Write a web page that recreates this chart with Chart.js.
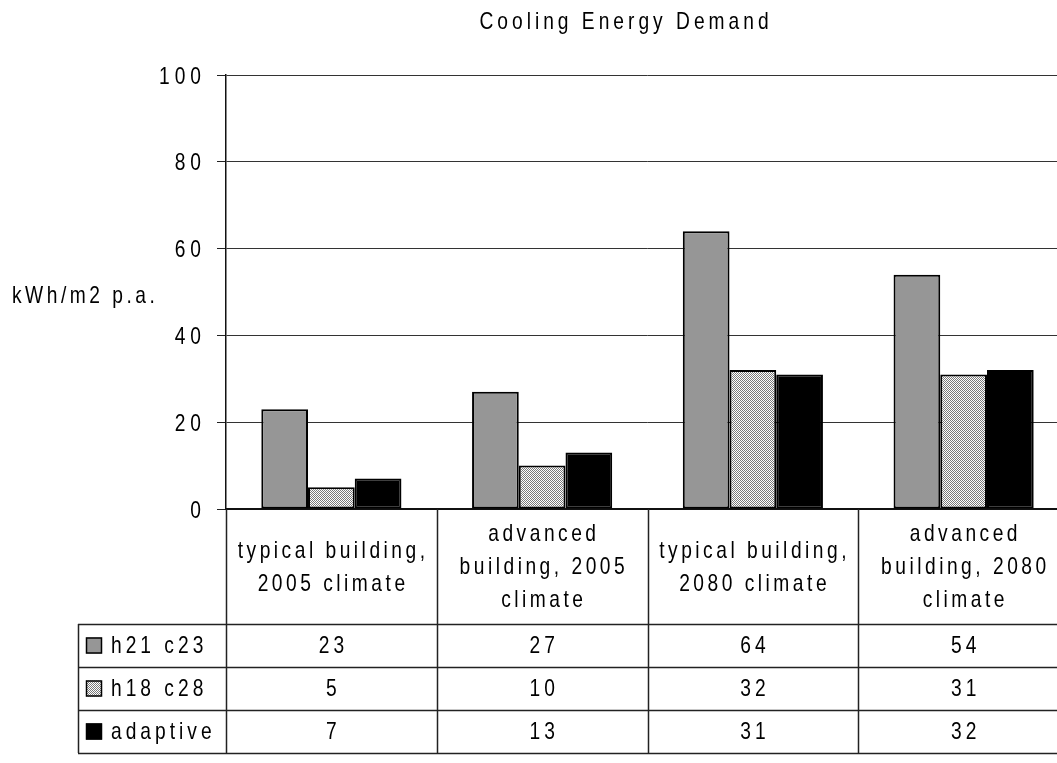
<!DOCTYPE html>
<html>
<head>
<meta charset="utf-8">
<title>Cooling Energy Demand</title>
<script src="https://cdn.jsdelivr.net/npm/chart.js@4.4.0/dist/chart.umd.min.js"></script>
<style>
    html, body { margin: 0; padding: 0; background: #fff; overflow: hidden; }
    #wrap { position: relative; width: 1072px; height: 763px; }
</style>
</head>
<body>
<div id="wrap"><canvas id="cooling-chart"></canvas></div>
<script>
const categories = [
    ['typical building,', '2005 climate'],
    ['advanced', 'building, 2005', 'climate'],
    ['typical building,', '2080 climate'],
    ['advanced', 'building, 2080', 'climate'],
];
const seriesNames = ['h21 c23', 'h18 c28', 'adaptive'];
const h21c23   = [23, 27, 64, 54];
const h18c28   = [5, 10, 32, 31];
const adaptive = [7, 13, 31, 32];
const yTicks   = [0, 20, 40, 60, 80, 100];

const FONT = "'Liberation Sans', Arial, sans-serif";
const SX = 0.8;          // horizontal squeeze for the narrow lettering
const LABEL_ROW = 115;
const DATA_ROW = 43;
const TABLE_LEFT = 78;

// fine checkered fill for the middle series
function dotPattern() {
    const c = document.createElement('canvas');
    c.width = 2; c.height = 2;
    const g = c.getContext('2d');
    g.fillStyle = '#fff';
    g.fillRect(0, 0, 2, 2);
    g.fillStyle = '#7a7a7a';
    g.fillRect(0, 0, 1, 1);
    g.fillRect(1, 1, 1, 1);
    return g.createPattern(c, 'repeat');
}

const fills = ['#969696', dotPattern(), '#000000'];
const values = [h21c23, h18c28, adaptive];

// squeezed, letter-spaced text
function txt(ctx, s, x, y, align, size, spacing) {
    ctx.save();
    ctx.translate(x, y);
    ctx.scale(SX, 1);
    ctx.font = `${size}px ${FONT}`;
    ctx.letterSpacing = (spacing / SX) + 'px';
    ctx.textAlign = align;
    ctx.textBaseline = 'middle';
    let off = 0;
    if (align === 'center') off = spacing / SX / 2;
    if (align === 'right') off = spacing / SX;
    ctx.fillStyle = '#000';
    ctx.fillText(s, off, 0);
    ctx.restore();
}

const tablePlugin = {
    id: 'dataTable',
    afterDraw(chart) {
        const { ctx, chartArea: area, scales: { x, y } } = chart;
        const colW = (area.right - area.left) / categories.length;
        const tableTop = area.bottom + LABEL_ROW;
        const tableBottom = tableTop + DATA_ROW * seriesNames.length;

        txt(ctx, 'Cooling Energy Demand', 624, 22, 'center', 24, 4);
        txt(ctx, 'kWh/m2 p.a.', 12, 296, 'left', 24, 3.5);

        yTicks.forEach(v => txt(ctx, String(v), 201, y.getPixelForValue(v) + 2, 'right', 24, 5));

        ctx.save();
        // grid lines of the table
        ctx.strokeStyle = '#222';
        ctx.lineWidth = 1.5;
        ctx.beginPath();
        for (let i = 0; i <= categories.length; i++) {
            const px = Math.round(area.left + i * colW) + 0.5;
            ctx.moveTo(px, area.bottom);
            ctx.lineTo(px, tableBottom);
        }
        for (let r = 0; r <= seriesNames.length; r++) {
            const py = Math.round(tableTop + r * DATA_ROW) + 0.5;
            ctx.moveTo(TABLE_LEFT, py);
            ctx.lineTo(area.right, py);
        }
        ctx.moveTo(TABLE_LEFT + 0.5, tableTop);
        ctx.lineTo(TABLE_LEFT + 0.5, tableBottom);
        ctx.stroke();

        // legend keys
        seriesNames.forEach((name, r) => {
            const cy = tableTop + r * DATA_ROW + DATA_ROW / 2;
            ctx.fillStyle = fills[r];
            ctx.fillRect(86, cy - 8, 16, 16);
            ctx.strokeStyle = '#000';
            ctx.lineWidth = 1.5;
            ctx.strokeRect(86.5, cy - 7.5, 15, 15);
        });
        ctx.restore();

        // category labels
        const lh = 33;
        categories.forEach((lines, i) => {
            const cx = x.getPixelForValue(i);
            const cy = area.bottom + LABEL_ROW / 2 + 1;
            lines.forEach((line, k) => {
                txt(ctx, line, cx, cy + (k - (lines.length - 1) / 2) * lh, 'center', 24, 3.5);
            });
        });

        // series names and values
        seriesNames.forEach((name, r) => {
            const cy = tableTop + r * DATA_ROW + DATA_ROW / 2 + 1;
            txt(ctx, name, 111, cy, 'left', 24, 4);
            values[r].forEach((v, i) => txt(ctx, String(v), x.getPixelForValue(i), cy, 'center', 24, 4));
        });
    },
};

new Chart(document.getElementById('cooling-chart'), {
    type: 'bar',
    data: {
        labels: categories,
        datasets: seriesNames.map((name, i) => ({
            label: name,
            data: values[i],
            backgroundColor: fills[i],
            borderColor: '#000',
            borderWidth: 2,
            borderSkipped: false,
            categoryPercentage: 0.665,
            barPercentage: 1.0,
        })),
    },
    options: {
        responsive: true,
        maintainAspectRatio: false,
        animation: false,
        layout: { padding: { top: 75, right: 3, bottom: 246, left: 0 } },
        plugins: {
            legend: { display: false },
            tooltip: { enabled: false },
            title: { display: false },
        },
        scales: {
            x: {
                ticks: { display: false },
                grid: { display: false },
                border: { color: '#111', width: 2 },
            },
            y: {
                min: 0,
                max: 100,
                afterBuildTicks: (scale) => { scale.ticks = yTicks.map(v => ({ value: v })); },
                afterFit: (scale) => { scale.width = 226; },
                ticks: { display: false },
                grid: { color: '#333', lineWidth: 1, tickLength: 9, tickColor: '#222' },
                border: { color: '#111', width: 1.5 },
            },
        },
    },
    plugins: [tablePlugin],
});
</script>
</body>
</html>
